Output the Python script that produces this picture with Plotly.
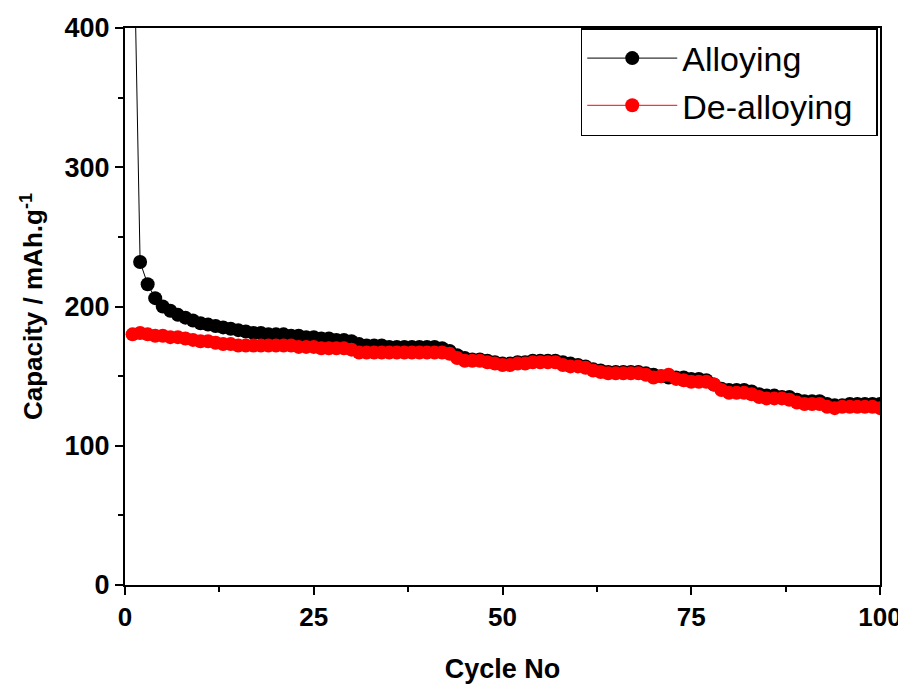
import plotly.graph_objects as go

cycles = list(range(1, 101))

alloying = [520, 232, 216, 206, 200, 197, 194, 192, 190, 188,
            187, 186, 185, 184, 183, 182, 181, 181, 180, 180,
            180, 179, 179, 178, 178, 177, 177, 176, 176, 175,
            173, 172, 172, 172, 171, 171, 171, 171, 171, 171,
            171, 170, 168, 165, 163, 162, 162, 161, 160, 159,
            159, 160, 160, 161, 161, 161, 161, 160, 159, 158,
            157, 155, 154, 153, 153, 153, 153, 153, 152, 151,
            150, 149, 149, 149, 148, 148, 147, 144, 141, 140,
            140, 140, 139, 137, 136, 136, 135, 135, 133, 132,
            132, 132, 130, 129, 129, 130, 130, 130, 130, 130]

dealloying = [180, 181, 180, 179, 179, 178, 178, 177, 176, 175,
              175, 174, 173, 173, 172, 172, 172, 172, 172, 172,
              172, 172, 171, 171, 171, 170, 170, 170, 170, 169,
              167, 167, 167, 167, 167, 167, 167, 167, 167, 167,
              167, 167, 166, 163, 161, 161, 161, 160, 159, 158,
              158, 159, 159, 160, 160, 160, 160, 158, 157, 157,
              156, 154, 153, 152, 152, 152, 152, 152, 151, 149,
              150, 151, 148, 147, 146, 146, 146, 144, 140, 138,
              138, 138, 137, 135, 134, 134, 134, 133, 131, 130,
              130, 130, 128, 127, 128, 128, 128, 128, 128, 127]

series_names = ["Alloying", "De-alloying"]
x_ticks = [0, 25, 50, 75, 100]
y_ticks = [0, 100, 200, 300, 400]

FONT = "Liberation Sans, Arial, sans-serif"
PAD = "\u00a0\u00a0"  # right padding inside legend box

fig = go.Figure()
fig.add_trace(go.Scatter(
    x=cycles, y=alloying, mode="lines+markers", name=series_names[0] + PAD,
    line=dict(color="black", width=1),
    marker=dict(color="black", size=14),
))
fig.add_trace(go.Scatter(
    x=cycles, y=dealloying, mode="lines+markers", name=series_names[1] + PAD,
    line=dict(color="red", width=1),
    marker=dict(color="red", size=14),
))

fig.update_layout(
    width=906, height=686,
    margin=dict(l=117, r=34, t=20, b=109),
    paper_bgcolor="white", plot_bgcolor="white",
    showlegend=True,
    legend=dict(
        x=0.997, y=1, xanchor="right", yanchor="top",
        bgcolor="white", bordercolor="black", borderwidth=1.5,
        font=dict(family=FONT, size=34, color="black"),
        itemwidth=90, tracegroupgap=0,
    ),
    font=dict(family=FONT, color="black"),
)

fig.update_xaxes(
    range=[0, 100], tickvals=x_ticks, ticktext=[str(v) for v in x_ticks],
    showgrid=False, zeroline=False, automargin=False,
    showline=True, linecolor="black", linewidth=2, mirror=True,
    ticks="outside", ticklen=8, tickwidth=2, tickcolor="black",
    tickfont=dict(family=FONT, size=26, color="black", weight="bold"),
    minor=dict(dtick=12.5, tick0=0, ticks="outside", ticklen=5, tickwidth=2, tickcolor="black", showgrid=False),
    title=dict(text="<b>Cycle No</b>", font=dict(family=FONT, size=27, color="black"), standoff=28),
)
fig.update_yaxes(
    range=[0, 400], tickvals=y_ticks, ticktext=[str(v) for v in y_ticks],
    showgrid=False, zeroline=False, automargin=False,
    showline=True, linecolor="black", linewidth=2, mirror=True,
    ticks="outside", ticklen=8, tickwidth=2, tickcolor="black",
    tickfont=dict(family=FONT, size=27, color="black", weight="bold"),
    minor=dict(dtick=50, tick0=0, ticks="outside", ticklen=5, tickwidth=2, tickcolor="black", showgrid=False),
    title=dict(text="<b>Capacity / mAh.g<sup>-1</sup></b>", font=dict(family=FONT, size=26, color="black"), standoff=14),
)

fig.write_html("out.html")
